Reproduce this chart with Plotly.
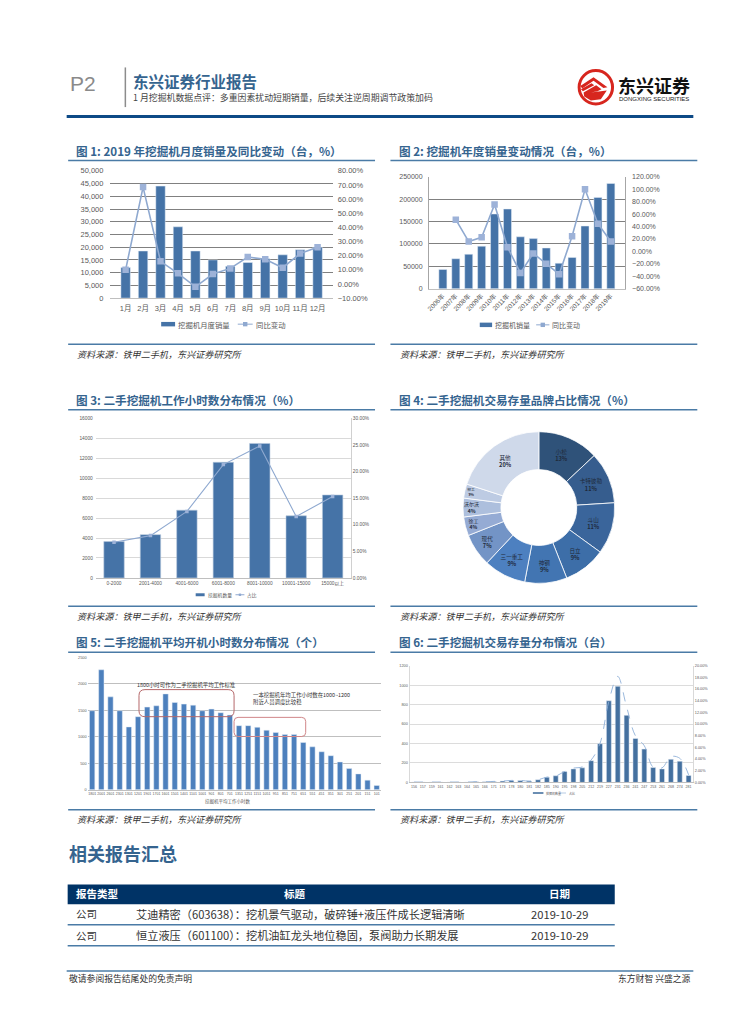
import plotly.graph_objects as go

W, H = 755, 1024
CJK = "Noto Sans CJK SC, Liberation Sans, sans-serif"
LAT = "Liberation Sans, Noto Sans CJK SC, sans-serif"
BLUE_T = "#35648f"
RULE = "#4a7ba6"
TICK = "#595959"

# ---- data ----
months = ["1月","2月","3月","4月","5月","6月","7月","8月","9月","10月","11月","12月"]
month_sales = [12000,18500,44000,28000,18500,15000,12500,14000,15500,17000,19000,20000]
month_yoy = [10,68.5,16,7.5,-2,7,11,19,17.5,11.5,21.5,26]

years = ["2006年","2007年","2008年","2009年","2010年","2011年","2012年","2013年","2014年","2015年","2016年","2017年","2018年","2019年"]
year_sales = [43000,67000,77000,95000,167000,178000,116000,112000,91000,57000,70000,140000,204000,235000]
year_yoy = [None,51,15.9,22.8,75.4,6.9,-34.5,-3.2,-19.6,-36.6,24.4,99.8,44.6,15.9]

hour_bins = ["0-2000","2001-4000","4001-6000","6001-8000","8001-10000","10001-15000","15000以上"]
hour_count = [3644,4340,6790,11594,13480,6228,8315]
hour_share = [6.7,7.95,12.5,21.3,24.8,11.55,15.3]

brands = ["小松","卡特彼勒","斗山","日立","神钢","三一重工","现代","徐工","沃尔沃","柳工","其他"]
brand_share = [13,11,11,9,9,9,7,4,4,3,20]
brand_colors = ["#2f5279","#365d8e","#3a659b","#3d6ea8","#4275b2","#4d80c0","#7394c6","#95abd4","#adbfdd","#bdcbe3","#cfd9ea"]

avg_labels = ["1801","2001","2601","2301","1301","1201","1901","1701","1601","1501","1401","1101","1001","901","801","701",
              "1351","1251","1151","1051","951","851","751","651","551","451","351","301","251","201","151","101"]
avg_hours = [1490,2263,1752,1490,1185,1378,1559,1584,1808,1646,1615,1596,1490,1521,1453,1409,
             1209,1209,1178,1122,1079,1041,1041,892,810,717,642,524,399,299,181,81]

stock_labels = ["156","157","159","161","162","163","164","165","166","171","173","178","180","181","182","185",
                "190","195","198","205","212","219","227","231","236","241","247","253","261","268","274","281"]
stock_count = [3,3,3,3,3,3,3,7,7,10,14,20,20,14,27,54,68,112,139,150,224,398,840,989,690,452,343,153,139,238,218,71]
stock_share = [0.06,0.06,0.06,0.06,0.06,0.06,0.06,0.11,0.11,0.17,0.23,0.34,0.34,0.23,0.45,0.9,
               1.08,1.87,2.44,2.66,3.85,6.69,13.94,18.19,12.97,7.99,6.29,2.61,2.49,4.42,4.14,1.3]

chart_titles = ["图 1: 2019 年挖掘机月度销量及同比变动（台，%）","图 2: 挖掘机年度销量变动情况（台，%）",
                "图 3: 二手挖掘机工作小时数分布情况（%）","图 4: 二手挖掘机交易存量品牌占比情况（%）",
                "图 5: 二手挖掘机平均开机小时数分布情况（个）","图 6: 二手挖掘机交易存量分布情况（台）"]
source_text = "资料来源：铁甲二手机，东兴证券研究所"
table_head = ["报告类型","标题","日期"]
table_rows = [["公司","艾迪精密（603638）：挖机景气驱动，破碎锤+液压件成长逻辑清晰","2019-10-29"],
              ["公司","恒立液压（601100）：挖机油缸龙头地位稳固，泵阀助力长期发展","2019-10-29"]]


def fx(p): return p / W
def fy(p): return 1 - p / H
def dom_x(a, b): return [fx(a), fx(b)]
def dom_y(top, bottom): return [fy(bottom), fy(top)]


shapes, notes = [], []

def text(x, y, s, size, color="#333", bold=False, anchor="left", font=CJK, italic=False):
    notes.append(dict(xref="paper", yref="paper", x=fx(x), y=fy(y), text=f"<b>{s}</b>" if bold else s,
                      showarrow=False, xanchor=anchor, yanchor="middle", align=anchor, borderpad=0,
                      font=dict(size=size, color=color, family=font, style="italic" if italic else "normal")))

def hline(x0, x1, y, color=RULE, w=1.5):
    shapes.append(dict(type="line", xref="paper", yref="paper", x0=fx(x0), x1=fx(x1), y0=fy(y), y1=fy(y),
                       line=dict(color=color, width=w)))

def rect(x0, y0, x1, y1, fill):
    shapes.append(dict(type="rect", xref="paper", yref="paper", x0=fx(x0), x1=fx(x1), y0=fy(y0), y1=fy(y1),
                       fillcolor=fill, line=dict(width=0), layer="below"))

def poly(points, fill):
    d = "M" + " L".join(f"{fx(570 + a / 3):.5f},{fy(60 + b / 3):.5f}" for a, b in points) + " Z"
    shapes.append(dict(type="path", xref="paper", yref="paper", path=d, fillcolor=fill, line=dict(width=0)))

def round_rect(x0, y0, x1, y1, r, color):
    X0, X1, Y0, Y1, rx, ry = fx(x0), fx(x1), fy(y0), fy(y1), r / W, r / H
    d = (f"M{X0+rx:.5f},{Y0:.5f} L{X1-rx:.5f},{Y0:.5f} Q{X1:.5f},{Y0:.5f} {X1:.5f},{Y0-ry:.5f} "
         f"L{X1:.5f},{Y1+ry:.5f} Q{X1:.5f},{Y1:.5f} {X1-rx:.5f},{Y1:.5f} "
         f"L{X0+rx:.5f},{Y1:.5f} Q{X0:.5f},{Y1:.5f} {X0:.5f},{Y1+ry:.5f} "
         f"L{X0:.5f},{Y0-ry:.5f} Q{X0:.5f},{Y0:.5f} {X0+rx:.5f},{Y0:.5f} Z")
    shapes.append(dict(type="path", xref="paper", yref="paper", path=d, line=dict(color=color, width=1)))

def legend_row(y, bar, name1, line, mark, name2, size, bar_h, bar_c, line_c, ms):
    rect(bar[0], y - bar_h / 2, bar[1], y + bar_h / 2, bar_c)
    text(bar[1] + 2, y, name1, size, TICK)
    hline(line[0], line[1], y, line_c, 1)
    if mark:
        rect((line[0] + line[1]) / 2 - ms, y - ms, (line[0] + line[1]) / 2 + ms, y + ms, line_c)
    text(line[1] + 2, y, name2, size, TICK)


# ---- page furniture ----
text(65, 80, "P2", 21, "#8a8a8a", font=LAT)
shapes.append(dict(type="line", xref="paper", yref="paper", x0=fx(122), x1=fx(122), y0=fy(64), y1=fy(104),
                   line=dict(color="#8c8c8c", width=1.5)))
text(129, 77.5, "东兴证券行业报告", 15.5, BLUE_T, bold=True)
text(129, 94.5, "1 月挖掘机数据点评：多重因素扰动短期销量，后续关注逆周期调节政策加码", 8.9, "#444", font=CJK)
hline(63, 693, 113.5, "#0d4a86", 3)

# logo
shapes.append(dict(type="circle", xref="paper", yref="paper", x0=fx(578.2), x1=fx(611.8), y0=fy(100.8), y1=fy(67.2),
                   line=dict(color="#d7261e", width=3), fillcolor="white"))
poly([(28, 68), (68, 42), (110, 72), (98, 74), (68, 52), (34, 76)], "#d7261e")
poly([(30, 78), (62, 60), (70, 66), (36, 84)], "#d7261e")
poly([(38, 88), (76, 66), (92, 78), (80, 84), (60, 88), (108, 82), (90, 108), (60, 112), (40, 100)], "#d7261e")
text(616, 81.5, "东兴证券", 18, "#111", bold=True)
text(617, 96, "DONGXING SECURITIES", 6, "#222", font=LAT)

title_pos = [(71, 148), (396, 148), (71, 400), (396, 400), (71, 644), (396, 644)]
for (x, y), s in zip(title_pos, chart_titles):
    text(x, y, s, 11.6, BLUE_T, bold=True)
for x0, x1, ys in [(64.5, 373, (158, 343.3, 409.3, 607.7, 654, 813)), (388.5, 697, (158, 343.3, 409.3, 607.7, 654, 813))]:
    for y in ys:
        hline(x0, x1, y)
for x in (72, 397):
    for y in (353, 617.7, 822):
        text(x, y, source_text, 9.1, "#333", italic=True)

text(64, 857, "相关报告汇总", 18, BLUE_T, bold=True)
rect(64, 888.3, 614, 908.3, "#003366")
text(93, 897.5, table_head[0], 10.5, "white", bold=True, anchor="center")
text(293, 897.5, table_head[1], 10.5, "white", bold=True, anchor="center")
text(558, 897.5, table_head[2], 10.5, "white", bold=True, anchor="center")
for y, row, rule in zip((918, 939.3), table_rows, (929, 950)):
    text(71, y, row[0], 10.5, "#333")
    text(132, y, row[1], 11.2, "#333")
    text(558, y, row[2], 11.2, "#333", anchor="center")
    hline(64, 614, rule)
hline(63, 693, 975.7)
text(64, 983, "敬请参阅报告结尾处的免责声明", 8.8, "#333")
text(692, 983, "东方财智 兴盛之源", 8.8, "#333", anchor="right")

# chart 5 callouts
round_rect(135.7, 691.7, 231.3, 719, 6, "#b5686a")
round_rect(231.3, 719.7, 303.3, 739, 4, "#d08688")
text(183, 687, "1800小时可作为二手挖掘机平均工作标准", 5.4, "#333", anchor="center")
text(249, 697, "一本挖掘机年均工作小时数在1000~1200", 5.4, "#333")
text(249, 704, "附近人员调度比较稳", 5.4, "#333")
text(225, 805, "挖掘机平均工作小时数", 4.5, "#555", anchor="center")

# legends
BAR1, LINE1, MARK1 = "#4573a7", "#8fa9d0", "#9db2d8"
legend_row(323, (158, 172), "挖掘机月度销量", (235, 250), True, "同比变动", 7.4, 4.5, BAR1, LINE1, 2.2)
legend_row(323.7, (478.3, 490.7), "挖掘机销量", (535, 548.3), True, "同比变动", 7, 4.5, BAR1, LINE1, 2.2)
legend_row(596, (192.7, 201.7), "挖掘机数量", (232.7, 241.7), True, "占比", 4.8, 3, BAR1, LINE1, 1.2)
legend_row(796, (531.7, 542.3), "挖掘机数量", (558, 565), False, "占比", 3, 1.6, "#44709f", "#b7cbe4", 0)

# ---- traces ----
fig = go.Figure()
fig.add_bar(x=months, y=month_sales, name="挖掘机月度销量", marker_color=BAR1, xaxis="x", yaxis="y", width=0.54)
fig.add_scatter(x=months, y=month_yoy, name="同比变动", mode="lines+markers", xaxis="x", yaxis="y2",
                line=dict(color=LINE1, width=1.6), marker=dict(symbol="square", size=6.5, color=MARK1))
fig.add_bar(x=years, y=year_sales, name="挖掘机销量", marker_color=BAR1, xaxis="x2", yaxis="y3", width=0.62)
fig.add_scatter(x=years, y=year_yoy, name="同比变动", mode="lines+markers", xaxis="x2", yaxis="y4",
                line=dict(color=LINE1, width=1.6), marker=dict(symbol="square", size=6.5, color=MARK1))
fig.add_bar(x=hour_bins, y=hour_count, name="挖掘机数量", marker=dict(color=BAR1, line=dict(color="#b8c9de", width=0.6)),
            xaxis="x3", yaxis="y5", width=0.56)
fig.add_scatter(x=hour_bins, y=hour_share, name="占比", mode="lines+markers", xaxis="x3", yaxis="y6",
                line=dict(color=LINE1, width=1.1), marker=dict(symbol="square", size=3.5, color=MARK1))
cx, cy, R = 537.7, 508, 76.5
fig.add_pie(labels=brands, values=brand_share, sort=False, direction="clockwise", hole=0.5,
            domain=dict(x=dom_x(cx - R, cx + R), y=dom_y(cy - R, cy + R)),
            marker=dict(colors=brand_colors, line=dict(color="white", width=0.8)),
            texttemplate="%{label}<br><b>%{value}%</b>", textposition="inside", insidetextorientation="horizontal",
            textfont=dict(size=5.6, color="#1f2a3a", family=CJK))
fig.add_bar(x=avg_labels, y=avg_hours, marker_color="#4d80bd", xaxis="x4", yaxis="y7", width=0.58)
fig.add_bar(x=stock_labels, y=stock_count, name="挖掘机数量", marker_color="#44709f", xaxis="x5", yaxis="y8", width=0.56)
fig.add_scatter(x=stock_labels, y=stock_share, name="占比", mode="lines", xaxis="x5", yaxis="y9",
                line=dict(color="#8fb0d8", width=0.9, dash="dash", shape="spline"))


def tf(size): return dict(size=size, color=TICK, family=LAT)

def xa(dom, anchor, size, angle=0, off=0):
    return dict(domain=dom, anchor=anchor, tickfont=tf(size), showgrid=False, ticks="", showline=True,
                linecolor="#bfbfbf", linewidth=1, type="category", tickmode="linear", dtick=1, tick0=0, tickangle=angle,
                ticklabelstandoff=off)

def ya(dom, anchor, rng, step, size, grid=None, **kw):
    d = dict(domain=dom, anchor=anchor, range=rng, dtick=step, tick0=rng[0], tickfont=tf(size), ticks="", zeroline=False,
             showgrid=grid is not None, showline=False, tickformat="d")
    if grid:
        d["gridcolor"], d["gridwidth"] = grid, 1
    d.update(kw)
    return d

def sec(dom, over, anchor, rng, step, size, **kw):
    d = ya(dom, anchor, rng, step, size, None, overlaying=over, side="right", ticksuffix="%", tickformat=".2f")
    d.update(kw)
    return d


d1y, d2y, d3y, d5y, d6y = dom_y(168.3, 296.7), dom_y(174.3, 287.3), dom_y(418, 579), dom_y(659, 792.7), dom_y(667.7, 785.3)

fig.update_layout(
    width=W, height=H, margin=dict(l=0, r=0, t=0, b=0), paper_bgcolor="white", plot_bgcolor="rgba(0,0,0,0)",
    barmode="overlay", shapes=shapes, annotations=notes, font=dict(family=CJK), showlegend=False,
    xaxis=xa(dom_x(107, 330.5), "y", 7.5, off=3),
    yaxis=ya(d1y, "x", [0, 50000], 5000, 7.5, "#808080", tickformat=",", ticklabelstandoff=6),
    yaxis2=sec(d1y, "y", "x", [-10, 80], 10, 7.5, ticklabelstandoff=4),
    xaxis2=xa(dom_x(427.3, 624), "y3", 6.5, -45),
    yaxis3=ya(d2y, "x2", [0, 250000], 50000, 7, "#808080", showline=True, linecolor="#a6a6a6", ticklabelstandoff=4),
    yaxis4=sec(d2y, "y3", "x2", [-60, 120], 20, 7, showline=True, linecolor="#a6a6a6", ticklabelstandoff=5),
    xaxis3=xa(dom_x(92.3, 348.7), "y5", 4.8),
    yaxis5=ya(d3y, "x3", [0, 16000], 2000, 4.8, "#d9d9d9", ticklabelstandoff=2),
    yaxis6=sec(d3y, "y5", "x3", [0, 30], 5, 4.8, showline=True, linecolor="#d0d0d0"),
    xaxis4=xa(dom_x(84, 379.3), "y7", 3.6),
    yaxis7=ya(d5y, "x4", [0, 2500], 500, 3.8, "#bfbfbf"),
    xaxis5=xa(dom_x(407.7, 692.7), "y8", 3.6),
    yaxis8=ya(d6y, "x5", [0, 1200], 200, 3.8, "#dcdcdc", showline=True, linecolor="#d9d9d9"),
    yaxis9=sec(d6y, "y8", "x5", [0, 20], 2, 3.8, showline=True, linecolor="#d9d9d9"),
)

fig.write_html("out.html", config={"displayModeBar": False}, post_script="document.body.style.margin='0';")
